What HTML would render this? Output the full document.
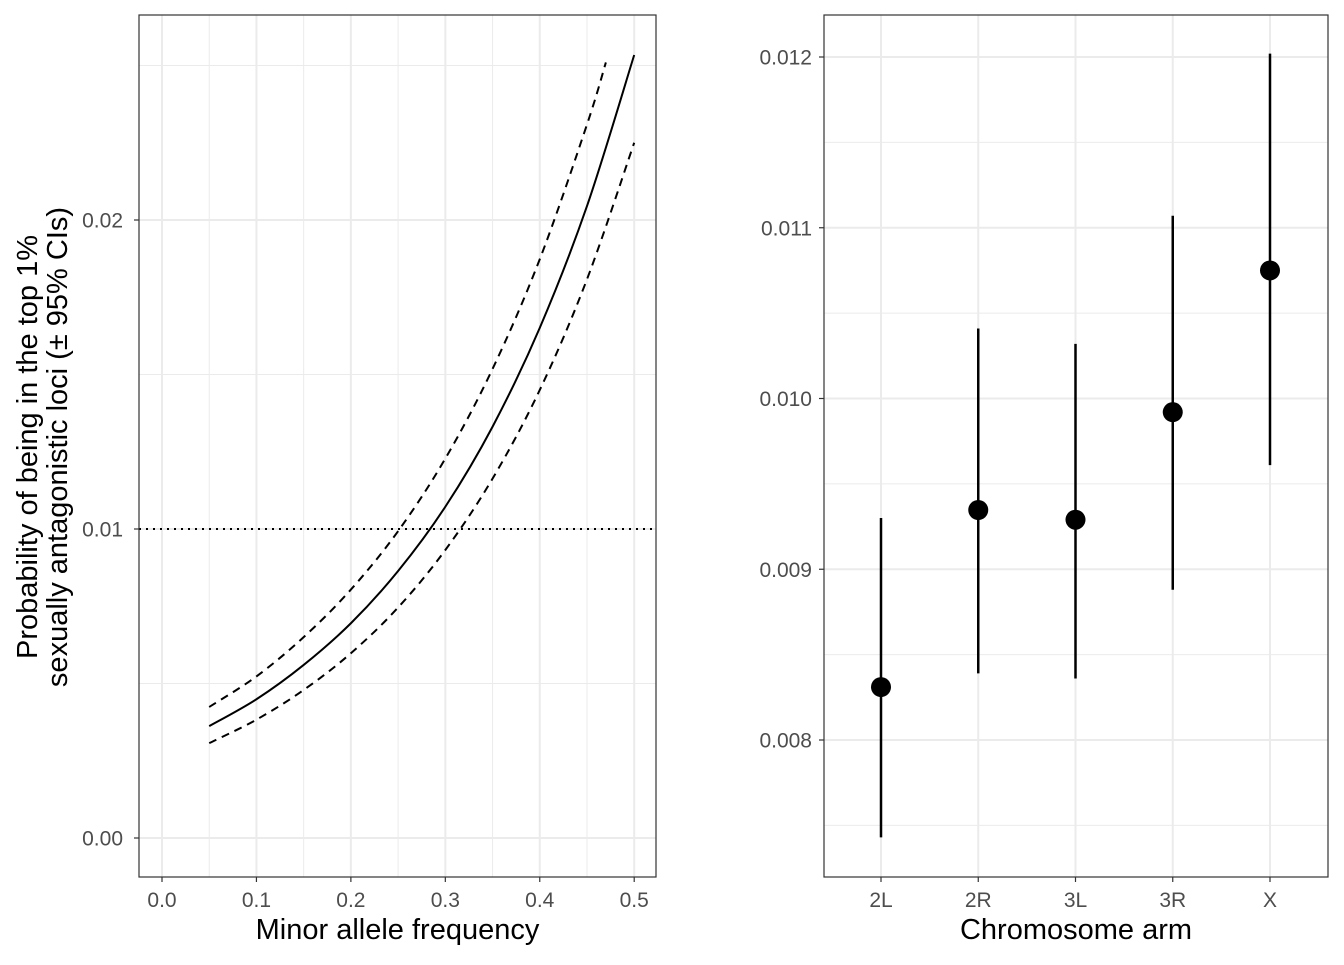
<!DOCTYPE html>
<html><head><meta charset="utf-8"><style>
html,body{margin:0;padding:0;background:#fff;}
svg text{font-family:"Liberation Sans",sans-serif;}
</style></head><body>
<svg id="chart" width="1344" height="960" xmlns="http://www.w3.org/2000/svg"></svg>
<script>
// Left panel data (minor allele frequency vs probability)
const mafX = [0.05,0.10,0.15,0.20,0.25,0.30,0.35,0.40,0.45,0.50];
const fitY = [0.00362,0.00449,0.00560,0.00695,0.00864,0.01072,0.01331,0.01651,0.02045,0.02534];
const upperX = [0.05,0.10,0.15,0.20,0.25,0.30,0.35,0.40,0.45,0.47];
const upperY = [0.00424,0.00523,0.00650,0.00804,0.00993,0.01228,0.01518,0.01873,0.02309,0.0251];
const lowerY = [0.00307,0.00383,0.00479,0.00598,0.00746,0.00932,0.01163,0.01450,0.01808,0.0225];
const leftXTicks = [0,0.1,0.2,0.3,0.4,0.5];
const leftXLabels = ["0.0","0.1","0.2","0.3","0.4","0.5"];
const leftYTicks = [0,0.01,0.02];
const leftYLabels = ["0.00","0.01","0.02"];
const refLine = 0.01;
// Right panel data
const arms = ["2L","2R","3L","3R","X"];
const armEst = [0.00831,0.009347,0.00929,0.00992,0.01075];
const armLo = [0.00743,0.00839,0.00836,0.00888,0.00961];
const armHi = [0.00930,0.01041,0.01032,0.01107,0.01202];
const rightYTicks = [0.008,0.009,0.010,0.011,0.012];
const rightYLabels = ["0.008","0.009","0.010","0.011","0.012"];

const NS="http://www.w3.org/2000/svg";
const svg=document.getElementById('chart');
function mk(tag,attrs,parent){const e=document.createElementNS(NS,tag);for(const k in attrs)e.setAttribute(k,attrs[k]);(parent||svg).appendChild(e);return e;}

const TF=21, AF=29;
const lx=v=>162+v*944.4, ly=v=>838-v*30900;
const rx=i=>881+i*97.25, ry=v=>740-(v-0.008)*170750;

function smooth(xs,ys,fx,fy){
  const p=xs.map((x,i)=>[fx(x),fy(ys[i])]);
  let d=`M${p[0][0]},${p[0][1]}`;
  for(let i=0;i<p.length-1;i++){
    const p0=p[i-1]||p[i],p1=p[i],p2=p[i+1],p3=p[i+2]||p2;
    d+=` C${p1[0]+(p2[0]-p0[0])/6},${p1[1]+(p2[1]-p0[1])/6} ${p2[0]-(p3[0]-p1[0])/6},${p2[1]-(p3[1]-p1[1])/6} ${p2[0]},${p2[1]}`;
  }
  return d;
}

// ---- Left panel
const L=mk('g',{});


const LX0=139,LX1=656,PY0=15,PY1=877;
[0.05,0.15,0.25,0.35,0.45].forEach(v=>{const e=mk('line',{x1:lx(v),x2:lx(v),y1:PY0,y2:PY1,stroke:'#ebebeb','stroke-width':1},L);});
[0.005,0.015,0.025].forEach(v=>{const e=mk('line',{x1:LX0,x2:LX1,y1:ly(v),y2:ly(v),stroke:'#ebebeb','stroke-width':1},L);});
leftXTicks.forEach((v,i)=>{
  const g=mk('line',{x1:lx(v),x2:lx(v),y1:PY0,y2:PY1,stroke:'#ebebeb','stroke-width':2},L);
  const t=mk('line',{x1:lx(v),x2:lx(v),y1:PY1,y2:PY1+5,stroke:'#333','stroke-width':1.2},L);
  const tx=mk('text',{x:lx(v),y:907,'font-size':TF,fill:'#4d4d4d','text-anchor':'middle'},L);tx.textContent=leftXLabels[i];
});
leftYTicks.forEach((v,i)=>{
  const g=mk('line',{x1:LX0,x2:LX1,y1:ly(v),y2:ly(v),stroke:'#ebebeb','stroke-width':2},L);
  const t=mk('line',{x1:LX0-5,x2:LX0,y1:ly(v),y2:ly(v),stroke:'#333','stroke-width':1.2},L);
  const tx=mk('text',{x:LX0-16,y:ly(v)+7.5,'font-size':TF,fill:'#4d4d4d','text-anchor':'end'},L);tx.textContent=leftYLabels[i];
});
const ref=mk('line',{x1:LX0,x2:LX1,y1:ly(refLine),y2:ly(refLine),stroke:'#000','stroke-width':2,'stroke-dasharray':'2,5'},L);

const up=mk('path',{d:smooth(upperX,upperY,lx,ly),fill:'none',stroke:'#000','stroke-width':2,'stroke-dasharray':'8,6'},L);

const lo=mk('path',{d:smooth(mafX,lowerY,lx,ly),fill:'none',stroke:'#000','stroke-width':2,'stroke-dasharray':'8,6'},L);

const fit=mk('path',{d:smooth(mafX,fitY,lx,ly),fill:'none',stroke:'#000','stroke-width':2},L);

const lb=mk('rect',{x:LX0,y:PY0,width:LX1-LX0,height:PY1-PY0,fill:'none',stroke:'#333','stroke-width':1.2},L);

const lxt=mk('text',{x:(LX0+LX1)/2,y:939,'font-size':AF,fill:'#000','text-anchor':'middle'},L);lxt.textContent='Minor allele frequency';

const lyt=mk('text',{transform:'translate(37,447) rotate(-90)','font-size':AF,fill:'#000','text-anchor':'middle'},L);

const s1=mk('tspan',{x:0,y:0},lyt);s1.textContent='Probability of being in the top 1%';
const s2=mk('tspan',{x:0,y:30},lyt);s2.textContent='sexually antagonistic loci (± 95% CIs)';

// ---- Right panel
const R=mk('g',{});


const RX0=824,RX1=1328;
[0.0075,0.0085,0.0095,0.0105,0.0115].forEach(v=>{const e=mk('line',{x1:RX0,x2:RX1,y1:ry(v),y2:ry(v),stroke:'#ebebeb','stroke-width':1},R);});
rightYTicks.forEach((v,i)=>{
  const g=mk('line',{x1:RX0,x2:RX1,y1:ry(v),y2:ry(v),stroke:'#ebebeb','stroke-width':2},R);
  const t=mk('line',{x1:RX0-5,x2:RX0,y1:ry(v),y2:ry(v),stroke:'#333','stroke-width':1.2},R);
  const tx=mk('text',{x:RX0-12,y:ry(v)+7.5,'font-size':TF,fill:'#4d4d4d','text-anchor':'end'},R);tx.textContent=rightYLabels[i];
});
arms.forEach((a,i)=>{
  const g=mk('line',{x1:rx(i),x2:rx(i),y1:PY0,y2:PY1,stroke:'#ebebeb','stroke-width':2},R);
  const t=mk('line',{x1:rx(i),x2:rx(i),y1:PY1,y2:PY1+5,stroke:'#333','stroke-width':1.2},R);
  const tx=mk('text',{x:rx(i),y:907,'font-size':TF,fill:'#4d4d4d','text-anchor':'middle'},R);tx.textContent=a;
});
arms.forEach((a,i)=>{
  const eb=mk('line',{x1:rx(i),x2:rx(i),y1:ry(armLo[i]),y2:ry(armHi[i]),stroke:'#000','stroke-width':2.5},R);
  
  const c=mk('circle',{cx:rx(i),cy:ry(armEst[i]),r:10,fill:'#000'},R);
  
});
const rb=mk('rect',{x:RX0,y:PY0,width:RX1-RX0,height:PY1-PY0,fill:'none',stroke:'#333','stroke-width':1.2},R);

const rxt=mk('text',{x:(RX0+RX1)/2,y:939,'font-size':AF,fill:'#000','text-anchor':'middle'},R);rxt.textContent='Chromosome arm';

</script>
</body></html>
